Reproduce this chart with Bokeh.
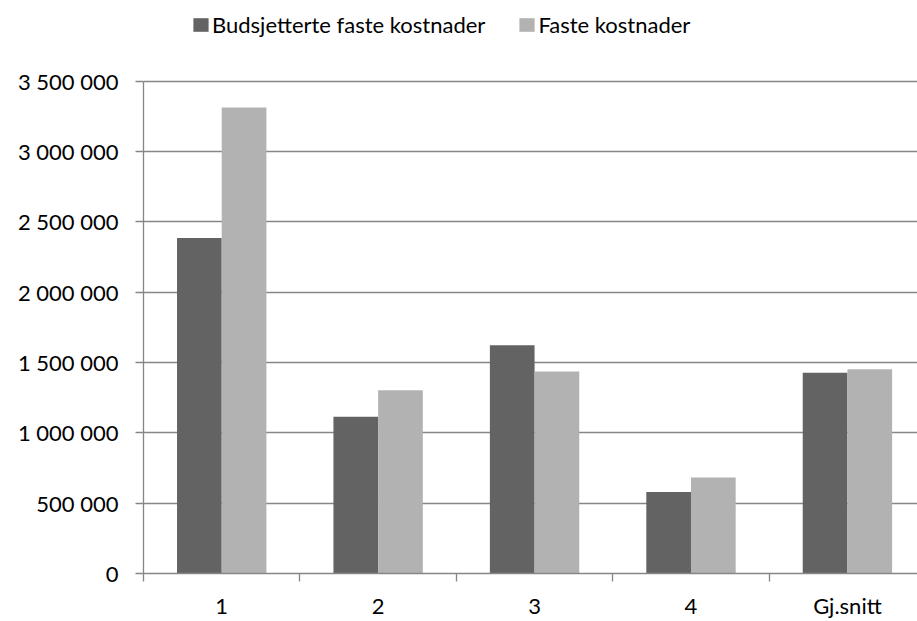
import numpy as np
from bokeh.plotting import figure
from bokeh.models import FixedTicker, Range1d, ColumnDataSource, Legend, LegendItem
from bokeh.embed import file_html
from bokeh.resources import INLINE

# ---- data ----
categories = ["1", "2", "3", "4", "Gj.snitt"]
budsjetterte = [2386000, 1114000, 1623000, 579000, 1427000]
faste = [3314000, 1302000, 1437000, 683000, 1453000]
series_names = ["Budsjetterte faste kostnader", "Faste kostnader"]
y_ticks = [0, 500000, 1000000, 1500000, 2000000, 2500000, 3000000, 3500000]
y_tick_labels = ["0", "500 000", "1 000 000", "1 500 000", "2 000 000",
                 "2 500 000", "3 000 000", "3 500 000"]

DARK = "#636363"
LIGHT = "#b2b2b2"
GRID = "#868686"
FONT = "Lato"
FS = "22px"

# layout: frame spans whole height above the x axis; the value axis ends
# at its top tick, leaving room above it for the legend
FRAME_BOTTOM = 575
AXIS_TOP = 81
y_max = y_ticks[-1] * FRAME_BOTTOM / (FRAME_BOTTOM - AXIS_TOP)

n = len(categories)
centers = np.arange(n) + 0.5
bar_w = 1.0 / 3.5

src = ColumnDataSource(data=dict(
    x1=centers - bar_w / 2, x2=centers + bar_w / 2,
    b=budsjetterte, f=faste))

p = figure(width=917, height=621, output_backend="svg", toolbar_location=None,
           x_range=Range1d(0, 4.948), y_range=Range1d(0, y_max),
           min_border_left=143, min_border_top=0, min_border_right=0,
           min_border_bottom=0)
p.outline_line_color = None
p.background_fill_color = "white"
p.border_fill_color = "white"

r1 = p.vbar(x="x1", top="b", width=bar_w, source=src, fill_color=DARK,
            line_color=None)
r2 = p.vbar(x="x2", top="f", width=bar_w, source=src, fill_color=LIGHT,
            line_color=None)

# y axis
yax = p.yaxis[0]
yax.bounds = (y_ticks[0], y_ticks[-1])
yax.ticker = FixedTicker(ticks=y_ticks, minor_ticks=[])
yax.major_label_overrides = {t: l for t, l in zip(y_ticks, y_tick_labels)}
yax.axis_line_color = GRID
yax.axis_line_width = 1.3
yax.major_tick_line_color = GRID
yax.major_tick_line_width = 1.3
yax.major_tick_in = 0
yax.major_tick_out = 8
yax.minor_tick_line_color = None
yax.major_label_standoff = 17
yax.major_label_text_font = FONT
yax.major_label_text_font_size = FS
yax.major_label_text_color = "#000000"

# x axis
xax = p.xaxis[0]
xax.ticker = FixedTicker(ticks=list(centers),
                         minor_ticks=list(range(n + 1)))
xax.major_label_overrides = {float(c): lab for c, lab in zip(centers, categories)}
xax.axis_line_color = GRID
xax.axis_line_width = 1.3
xax.major_tick_line_color = None
xax.major_tick_in = 0
xax.major_tick_out = 0
xax.minor_tick_line_color = GRID
xax.minor_tick_line_width = 1.3
xax.minor_tick_in = 0
xax.minor_tick_out = 8
xax.major_label_standoff = 10
xax.major_label_text_font = FONT
xax.major_label_text_font_size = FS
xax.major_label_text_color = "#000000"

p.xgrid.visible = False
p.ygrid[0].ticker = FixedTicker(ticks=y_ticks[1:])
p.ygrid.grid_line_color = GRID
p.ygrid.grid_line_width = 1.3

lg = Legend(items=[LegendItem(label=series_names[0], renderers=[r1]),
                   LegendItem(label=series_names[1], renderers=[r2])])
lg.orientation = "horizontal"
lg.location = (48, 535)
lg.border_line_color = None
lg.background_fill_alpha = 0
lg.padding = 0
lg.margin = 0
lg.spacing = 32
lg.label_standoff = 2
lg.glyph_width = 19
lg.glyph_height = 17
lg.label_text_font = FONT
lg.label_text_font_size = FS
lg.label_text_color = "#000000"
p.add_layout(lg, "center")

open("out.html", "w").write(file_html(p, INLINE))
